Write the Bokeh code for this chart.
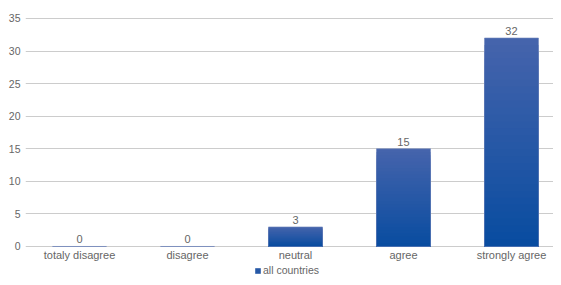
from bokeh.plotting import figure
from bokeh.models import ColumnDataSource, FixedTicker, Legend, LegendItem, LabelSet, Range1d
from bokeh.core.properties import value
from bokeh.embed import file_html
from bokeh.resources import INLINE

categories = ["totaly disagree", "disagree", "neutral", "agree", "strongly agree"]
values = [0, 0, 3, 15, 32]
series_name = "all countries"
y_ticks = [0, 5, 10, 15, 20, 25, 30, 35]

top_rgb = (0x46, 0x64, 0xac)
bot_rgb = (0x08, 0x4c, 0xa0)

# frame spans y 17..277; value 0 sits 31px above the frame bottom
p = figure(width=553, height=277, output_backend="svg", toolbar_location=None,
           x_range=Range1d(-0.5, 4.389), y_range=Range1d(-4.76, 35.15),
           frame_width=528, x_axis_location=None,
           min_border_left=25, min_border_right=0, min_border_top=17, min_border_bottom=0)
p.outline_line_color = None
p.background_fill_color = "white"

xs = list(range(len(categories)))
N = 30
layers = []
for k in range(N):
    frac = 1 - k / N
    t = 1 - (k + 0.5) / N
    c = tuple(int(round(bot_rgb[i] + (top_rgb[i] - bot_rgb[i]) * t)) for i in range(3))
    col = "#%02x%02x%02x" % c
    src = ColumnDataSource(dict(x=xs, t=[v * frac for v in values]))
    layers.append(p.vbar(x="x", bottom=0, top="t", width=0.5, source=src, fill_color=col,
                         line_color=None))

zsrc = ColumnDataSource(dict(x=xs, v=values))
p.vbar(x="x", bottom=0, top="v", width=0.5, source=zsrc, fill_alpha=0,
       line_color="#6f86bd", line_width=1, line_alpha=0.6)

lsrc = ColumnDataSource(dict(x=xs, v=values, s=[str(v) for v in values],
                             cat=categories, zero=[0] * len(xs)))
labels = LabelSet(x="x", y="v", text="s", source=lsrc, text_align="center",
                  text_baseline="bottom", y_offset=3, text_font=value("Liberation Sans"),
                  text_font_size=value("11px"), text_color="#666666")
p.add_layout(labels)

cat_labels = LabelSet(x="x", y="zero", text="cat", source=lsrc, text_align="center",
                      text_baseline="top", y_offset=-3, text_font=value("Liberation Sans"),
                      text_font_size=value("11px"), text_color="#666666")
p.add_layout(cat_labels)

p.yaxis.ticker = FixedTicker(ticks=y_ticks)
ax = p.yaxis[0]
ax.axis_line_color = None
ax.major_tick_line_color = None
ax.minor_tick_line_color = None
ax.major_tick_out = 0
ax.major_tick_in = 0
ax.minor_tick_out = 0
ax.major_label_text_font = "Liberation Sans"
ax.major_label_text_color = "#666666"
ax.major_label_text_font_size = "10.5px"
ax.major_label_standoff = 5

p.xgrid.grid_line_color = None
p.ygrid.grid_line_color = "#cccccc"
p.ygrid.ticker = FixedTicker(ticks=y_ticks)

legend = Legend(items=[LegendItem(label=series_name, renderers=[layers[N // 2]])],
                location=(229, 1), orientation="horizontal",
                label_text_font="Liberation Sans", label_text_font_size="10.5px",
                label_text_color="#666666", glyph_width=7, glyph_height=7,
                label_standoff=2, padding=0, margin=0, spacing=0, label_height=9,
                border_line_color=None, background_fill_alpha=0)
p.add_layout(legend, "center")

open("out.html", "w").write(file_html(p, INLINE))
